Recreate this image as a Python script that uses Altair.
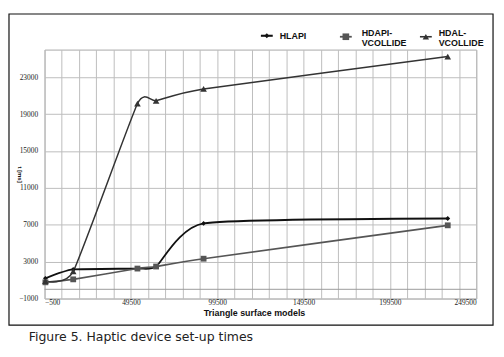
import altair as alt
import pandas as pd

# ---- data ----
series = ["HLAPI", "HDAPI-VCOLLIDE", "HDAL-VCOLLIDE"]
x_models = [0, 16100, 53300, 64100, 91600, 233000]
hlapi = [1190, 2150, 2250, 2470, 7150, 7680]
hdapi = [760, 1080, 2250, 2470, 3320, 6940]
hdal = [900, 1940, 20130, 20450, 21730, 25240]

x_grid = list(range(-500, 249501, 10000))
y_ticks = list(range(-1000, 23001, 4000))
zero_line = [0]

colors = ["#111111", "#555555", "#333333"]
shapes = ["diamond", "square", "triangle-up"]
widths = [1.8, 1.5, 1.3]
sizes = [24, 45, 42]

rows = []
for name, vals in zip(series, [hlapi, hdapi, hdal]):
    for xv, yv in zip(x_models, vals):
        rows.append({"series": name, "x": xv, "t": yv})
df = pd.DataFrame(rows)

xs = alt.Scale(domain=[-500, 249500], nice=False, zero=False)
ys = alt.Scale(domain=[-1000, 26000], nice=False, zero=False)

x_enc = alt.X(
    "x:Q", scale=xs,
    axis=alt.Axis(
        values=x_grid, tickCount=40, format="d",
        labelExpr="(datum.value + 500) % 50000 == 0 ? datum.label : ''",
        labelOverlap=False, labelFont="Liberation Serif", labelFontSize=7.5,
        labelColor="#222", labelPadding=0, ticks=False, domain=False,
        title="Triangle surface models", titleFont="Liberation Sans",
        titleFontSize=9, titleFontWeight="bold", titleColor="#111",
        titlePadding=3, titleX=212,
    ),
)
y_enc = alt.Y(
    "t:Q", scale=ys,
    axis=alt.Axis(
        values=y_ticks, tickCount=20, format="d", labelFont="Liberation Serif",
        labelFontSize=7.5, labelColor="#222", labelPadding=7, ticks=False,
        domain=False, title="t [ms]", titleFont="Liberation Sans",
        titleFontSize=6, titleFontWeight="bold", titleColor="#111",
        titleAngle=90, titleX=-28, titleY=126,
    ),
)

cscale = alt.Scale(domain=series, range=colors)

zero_rule = alt.Chart(pd.DataFrame({"t": zero_line})).mark_rule(
    color="#9a9a9a", strokeWidth=1
).encode(y=alt.Y("t:Q", scale=ys))

lines = alt.Chart(df).mark_line(interpolate="cardinal", tension=0.5).encode(
    x=x_enc, y=y_enc,
    color=alt.Color("series:N", scale=cscale, legend=None),
    strokeWidth=alt.StrokeWidth("series:N", scale=alt.Scale(domain=series, range=widths), legend=None),
)

points = alt.Chart(df).mark_point(filled=True, opacity=1).encode(
    x=alt.X("x:Q", scale=xs), y=alt.Y("t:Q", scale=ys),
    color=alt.Color("series:N", scale=cscale, legend=None),
    shape=alt.Shape("series:N", scale=alt.Scale(domain=series, range=shapes), legend=None),
    size=alt.Size("series:N", scale=alt.Scale(domain=series, range=sizes), legend=None),
)

one = pd.DataFrame({"a": [0]})

# manual legend
leg_items = [
    ("HLAPI", 219, -14, 238, -14, colors[0], shapes[0], sizes[0], widths[0]),
    ("HDAPI-\nVCOLLIDE", 299, -13, 321, -16.5, colors[1], shapes[1], sizes[1], widths[1]),
    ("HDAL-\nVCOLLIDE", 380, -13, 399, -16.5, colors[2], shapes[2], sizes[2], widths[2]),
]
legend_layers = []
for label, lx, ly, tx, ty, col, shp, sz, sw in leg_items:
    legend_layers.append(
        alt.Chart(one).mark_rule(color=col, strokeWidth=sw + 0.3).encode(
            x=alt.value(lx), x2=alt.value(lx + 12), y=alt.value(ly)
        )
    )
    legend_layers.append(
        alt.Chart(one).mark_point(filled=True, opacity=1, color=col, shape=shp, size=sz).encode(
            x=alt.value(lx + 6), y=alt.value(ly)
        )
    )
    legend_layers.append(
        alt.Chart(one).mark_text(
            text=label, lineBreak="\n", align="left", baseline="middle",
            font="Liberation Sans", fontSize=9, fontWeight="bold",
            color="#111", lineHeight=9.5,
        ).encode(x=alt.value(tx), y=alt.value(ty))
    )

frame = alt.Chart(one).mark_rect(fill=None, stroke="#111", strokeWidth=1.2).encode(
    x=alt.value(-36), x2=alt.value(454), y=alt.value(-36), y2=alt.value(279)
)

caption = alt.Chart(one).mark_text(
    text="Figure 5. Haptic device set-up times", align="left", baseline="middle",
    font="DejaVu Sans", fontSize=12.6, color="#222",
).encode(x=alt.value(-16), y=alt.value(291))

chart = alt.layer(
    zero_rule, lines, points, *legend_layers, frame, caption
).properties(
    width=437, height=252,
    autosize=alt.AutoSizeParams(type="none"),
    padding={"left": 37, "top": 40, "right": 20, "bottom": 50},
    background="white",
).configure_view(
    stroke="#a8a8a8", strokeWidth=1
).configure_axis(
    gridColor="#bdbdbd", gridWidth=1, gridOpacity=1
)

chart.save("out.html", embed_options={"renderer": "svg", "actions": False})
